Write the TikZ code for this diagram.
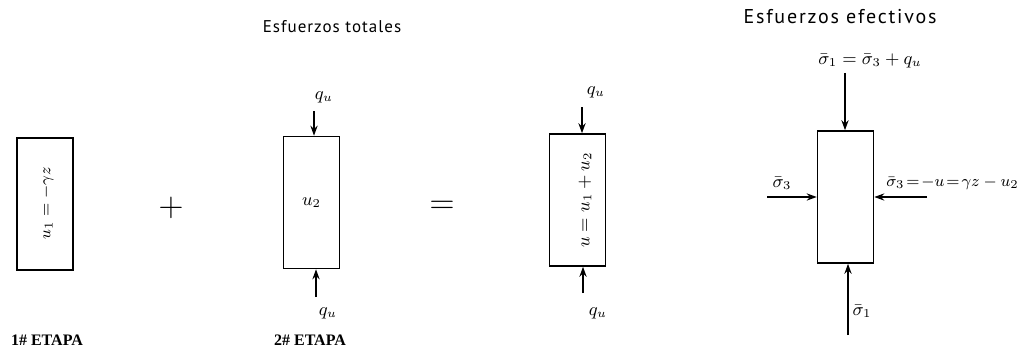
\documentclass[tikz,border=0pt]{standalone}
\usepackage{fontspec}
\usetikzlibrary{arrows.meta}
\newfontfamily\titlefont[LetterSpace=6]{PT Sans}
\newfontfamily\wideheadfont[LetterSpace=9]{PT Sans}
\newfontfamily\stagefont{Liberation Serif}
\begin{document}
\begin{tikzpicture}[x=0.5pt,y=-0.5pt,every node/.style={font=\small},
  elem/.style={draw,line width=0.8pt,minimum width=28pt,minimum height=66pt,inner sep=0pt},
  load/.style={-{Stealth[length=5pt,width=3.6pt]},line width=0.7pt},
  heading/.style={font=\titlefont\fontsize{8.5}{10}\selectfont},
  stage/.style={font=\stagefont\bfseries\fontsize{8}{9}\selectfont}]
\useasboundingbox (0,0) rectangle (1026,353);
\node[heading] (tot) at (332,27) {Esfuerzos totales};
\node[font=\wideheadfont\fontsize{10}{12}\selectfont] (efe) at (840,17) {Esfuerzos efectivos};
\node[elem] (b1) at (45,204) {};
\node[rotate=90,font=\footnotesize] (l1) at (47,203) {$u_1=-\gamma z$};
\node[font=\LARGE] (plus) at (171,208) {$+$};
\node[elem] (b2) at (311.5,202.5) {$u_2$};
\coordinate (t2) at (314,111);
\coordinate (d2) at (316,297);
\draw[load] (t2) -- (t2 |- b2.north);
\draw[load] (d2) -- (d2 |- b2.south);
\node (q2a) at (324,97) {$q_u$};
\node (q2b) at (328,313) {$q_u$};
\node[font=\LARGE] (eq) at (442,207) {$=$};
\node[elem] (b3) at (577.5,200) {};
\node[rotate=90] (l3) at (585,200) {$u=u_1+u_2$};
\coordinate (t3) at (582,107);
\coordinate (d3) at (583,293);
\draw[load] (t3) -- (t3 |- b3.north);
\draw[load] (d3) -- (d3 |- b3.south);
\node (q3a) at (596,92) {$q_u$};
\node (q3b) at (598,313) {$q_u$};
\node[elem] (b4) at (845.5,197) {};
\node[anchor=south,inner sep=1pt] (s1a) at (870,70) {$\bar\sigma_1=\bar\sigma_3+q_u$};
\coordinate (t4) at (845,73);
\coordinate (d4) at (848,335);
\coordinate (w4) at (767,197);
\coordinate (e4) at (927,197);
\draw[load] (t4) -- (t4 |- b4.north);
\draw[load] (d4) -- (d4 |- b4.south);
\draw[load] (w4) -- (b4.west |- w4);
\draw[load] (e4) -- (b4.east |- e4);
\node (s1b) at (862,311) {$\bar\sigma_1$};
\node (s3a) at (782,183) {$\bar\sigma_3$};
\node[anchor=west,inner sep=1pt,font=\footnotesize] (s3b) at (884,183) {$\bar\sigma_3\!=\!-u\!=\!\gamma z-u_2$};
\node[stage] (st1) at (47,340) {1\# ETAPA};
\node[stage] (st2) at (310,340) {2\# ETAPA};
\end{tikzpicture}
\end{document}
